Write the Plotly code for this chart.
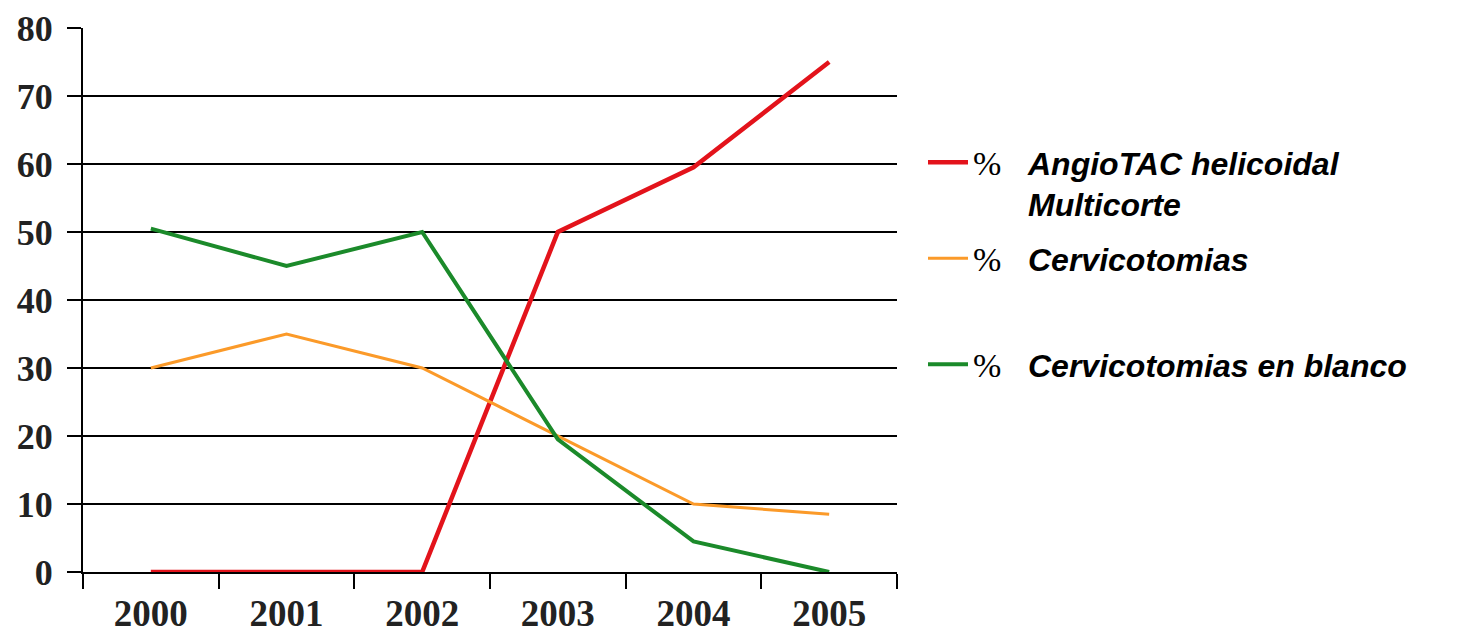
import plotly.graph_objects as go

years = ["2000", "2001", "2002", "2003", "2004", "2005"]
angio_tac = [0, 0, 0, 50, 59.5, 75]
cervicotomias = [30, 35, 30, 20, 10, 8.5]
cervicotomias_blanco = [50.5, 45, 50, 19.5, 4.5, 0]
y_ticks = [0, 10, 20, 30, 40, 50, 60, 70, 80]

pct = '<span style="font-family:Liberation Serif;font-size:34px;font-weight:normal;font-style:normal">%</span>'
ghost = '<span style="font-family:Liberation Serif;font-size:34px;color:rgba(0,0,0,0)">%</span>'
gap = "&nbsp;&nbsp;&nbsp;"

name_angio = pct + gap + "<b><i>AngioTAC helicoidal</i></b><br>" + ghost + gap + "<b><i>Multicorte</i></b>"
name_cerv = pct + gap + "<b><i>Cervicotomias</i></b>"
name_blanco = pct + gap + "<b><i>Cervicotomias en blanco</i></b>"

fig = go.Figure()
fig.add_trace(go.Scatter(x=years, y=angio_tac, mode="lines", name=name_angio,
                         line=dict(color="#e3131b", width=4.5), legend="legend"))
fig.add_trace(go.Scatter(x=years, y=cervicotomias, mode="lines", name=name_cerv,
                         line=dict(color="#fb9a29", width=3), legend="legend2"))
fig.add_trace(go.Scatter(x=years, y=cervicotomias_blanco, mode="lines", name=name_blanco,
                         line=dict(color="#1b8a2a", width=4), legend="legend3"))

legend_common = dict(xref="container", yref="container", xanchor="left", yanchor="top",
                     font=dict(family="Liberation Sans", size=32, color="black"),
                     bgcolor="rgba(0,0,0,0)", valign="top", itemwidth=40)

fig.update_layout(
    width=1459, height=634, autosize=False,
    paper_bgcolor="white", plot_bgcolor="white",
    margin=dict(l=83, r=562, t=28, b=62, autoexpand=False),
    showlegend=True,
    legend=dict(x=923 / 1459, y=1 - 135 / 634, **legend_common),
    legend2=dict(x=923 / 1459, y=1 - 231 / 634, **legend_common),
    legend3=dict(x=923 / 1459, y=1 - 337 / 634, **legend_common),
    xaxis=dict(
        type="category", range=[-0.5, 5.5], tickson="boundaries",
        showgrid=False, showline=True, linecolor="black", linewidth=2,
        ticks="outside", ticklen=15, tickwidth=2, tickcolor="black",
        ticklabelstandoff=8, automargin=False,
        tickfont=dict(family="Liberation Serif", size=37, color="#222", weight="bold"),
        zeroline=False,
    ),
    yaxis=dict(
        range=[0, 80], tickvals=y_ticks, ticktext=[str(v) for v in y_ticks],
        showgrid=True, gridcolor="black", gridwidth=2,
        showline=True, linecolor="black", linewidth=2,
        ticks="outside", ticklen=14, tickwidth=2, tickcolor="black",
        ticklabelstandoff=7, automargin=False,
        tickfont=dict(family="Liberation Serif", size=36, color="#222", weight="bold"),
        zeroline=False,
    ),
)

fig.write_html("out.html")
